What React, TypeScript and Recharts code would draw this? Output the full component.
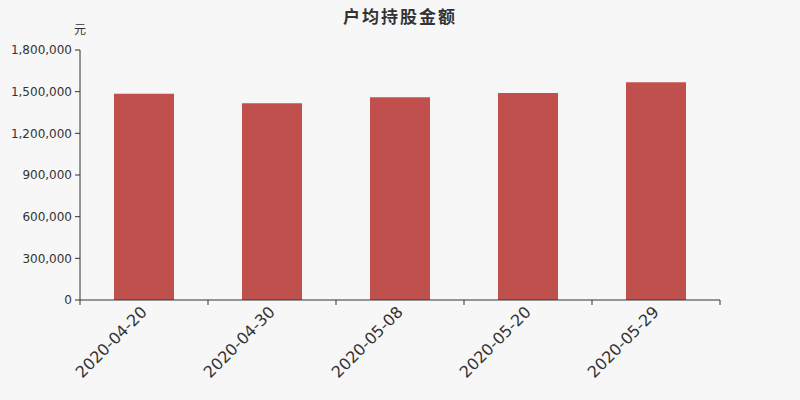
import React from "react";
import { BarChart, Bar, XAxis, YAxis } from "recharts";

const dates = ["2020-04-20", "2020-04-30", "2020-05-08", "2020-05-20", "2020-05-29"];
const amounts = [1485000, 1416000, 1459000, 1490000, 1567000];
const yTicks = [0, 300000, 600000, 900000, 1200000, 1500000, 1800000];

const data = dates.map((d, i) => ({ date: d, amount: amounts[i] }));

const FONT = "'DejaVu Sans', 'Noto Sans CJK SC', sans-serif";
const W = 800;
const H = 400;
const MARGIN = { top: 50, right: 80, bottom: 0, left: 0 };
const Y_WIDTH = 80;
const BAND = (W - MARGIN.left - MARGIN.right - Y_WIDTH) / dates.length;

const DateTick = (props: any) => {
  const { x, y, payload, index } = props;
  const lx = x + 4;
  const ly = y + 13;
  return (
    <g>
      <line x1={x - BAND / 2} y1={y} x2={x - BAND / 2} y2={y + 5} stroke="#333" />
      {index === dates.length - 1 && (
        <line x1={x + BAND / 2} y1={y} x2={x + BAND / 2} y2={y + 5} stroke="#333" />
      )}
      <text
        x={lx}
        y={ly}
        textAnchor="end"
        fill="#333"
        fontSize={16}
        fontFamily={FONT}
        transform={`rotate(-45, ${lx}, ${ly})`}
      >
        {payload.value}
      </text>
    </g>
  );
};

export default function App() {
  return (
    <div
      style={{
        position: "fixed",
        left: 0,
        top: 0,
        width: W,
        height: H,
        background: "#f7f7f7",
        fontFamily: FONT,
      }}
    >
      <div
        style={{
          position: "absolute",
          top: 3,
          width: W,
          textAlign: "center",
          fontSize: 17,
          fontWeight: "bold",
          letterSpacing: 2,
          color: "#333",
        }}
      >
        户均持股金额
      </div>
      <div style={{ position: "absolute", left: 74, top: 20, fontSize: 12, color: "#333" }}>元</div>
      <BarChart width={W} height={H} data={data} margin={MARGIN}>
        <XAxis
          dataKey="date"
          height={100}
          interval={0}
          stroke="#333"
          tickLine={false}
          tickSize={0}
          tickMargin={0}
          tick={<DateTick />}
        />
        <YAxis
          width={Y_WIDTH}
          domain={[0, 1800000]}
          ticks={yTicks}
          interval={0}
          stroke="#333"
          tickSize={5}
          tickMargin={3}
          tick={{ fill: "#333", fontSize: 12, fontFamily: FONT }}
          tickFormatter={(v: number) => v.toLocaleString("en-US")}
        />
        <Bar dataKey="amount" fill="#c0504d" barSize={60} isAnimationActive={false} />
      </BarChart>
    </div>
  );
}
